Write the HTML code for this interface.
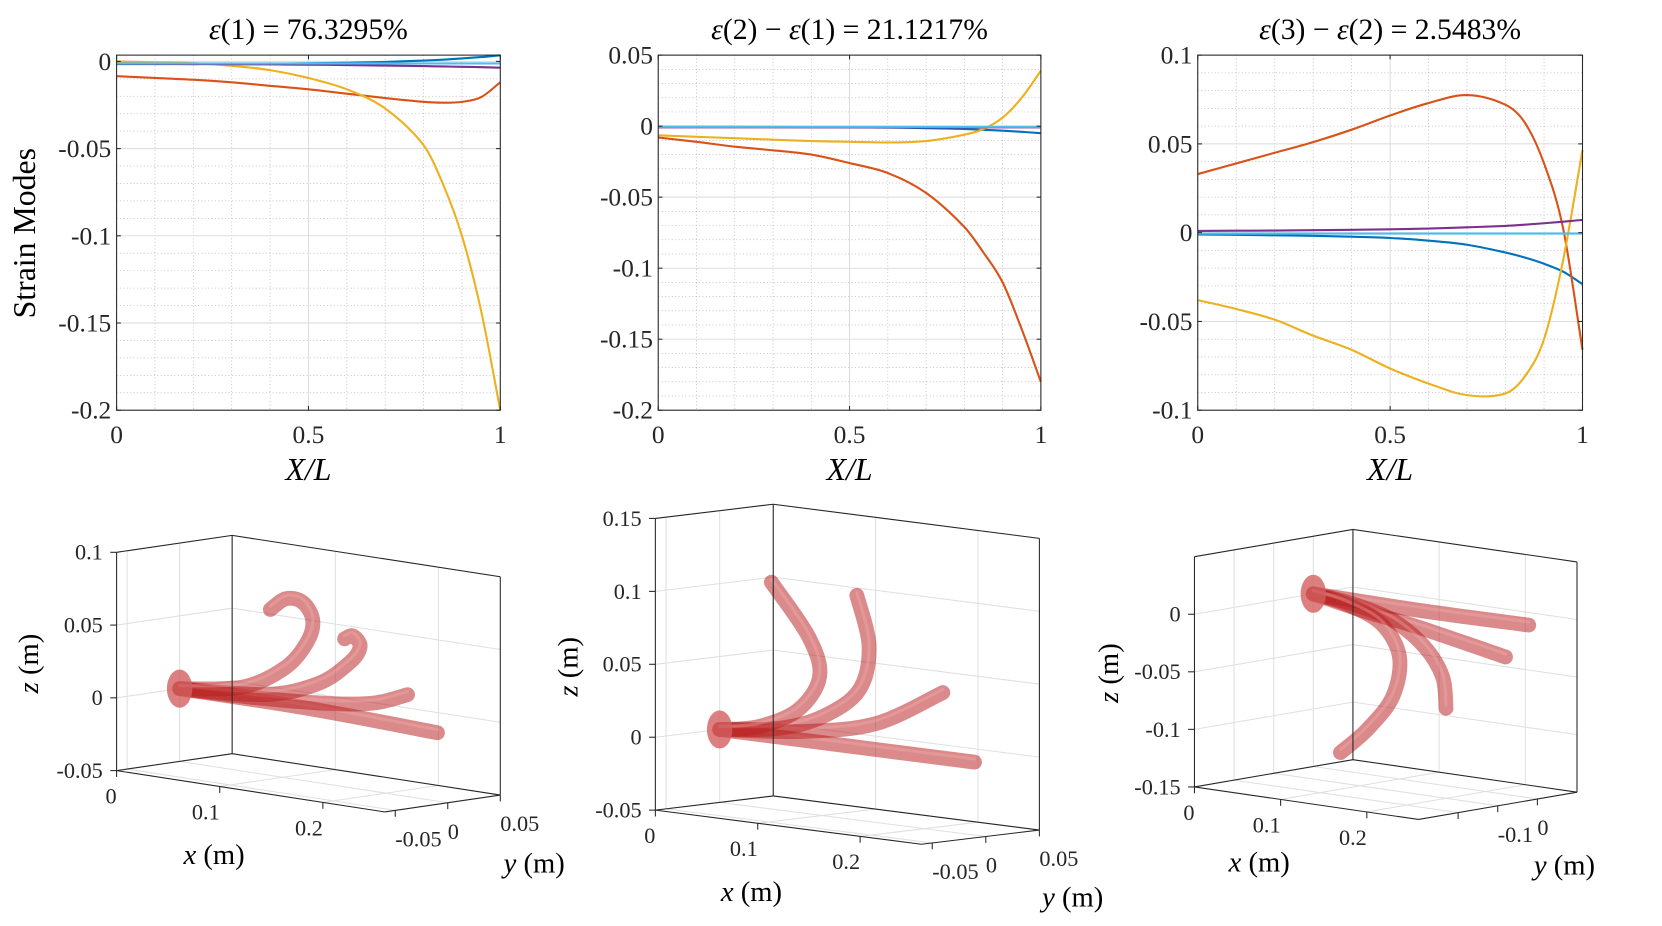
<!DOCTYPE html>
<html><head><meta charset="utf-8">
<style>
html,body{margin:0;padding:0;background:#fff;}
svg{display:block;font-family:"Liberation Serif",serif;}
</style></head>
<body>
<svg id="fig" xmlns="http://www.w3.org/2000/svg" width="1662" height="926" viewBox="0 0 1568 873.6" preserveAspectRatio="none"></svg>
<script>
// ---------- 2D strain mode data ----------
const XS = [0,0.1,0.2,0.3,0.4,0.5,0.6,0.7,0.8,0.85,0.9,0.95,1];
const xTicks = [0,0.5,1];
const xTickLabels = ["0","0.5","1"];
// panel 1
const p1Blue   = [-0.0015,-0.0015,-0.0015,-0.0014,-0.0013,-0.0011,-0.0008,-0.0003,0.0005,0.001,0.0017,0.0025,0.0035];
const p1Orange = [-0.0085,-0.0095,-0.0105,-0.012,-0.014,-0.016,-0.0185,-0.021,-0.0232,-0.0237,-0.0232,-0.0205,-0.012];
const p1Yellow = [0,-0.0005,-0.001,-0.0025,-0.005,-0.0095,-0.016,-0.027,-0.048,-0.07,-0.1,-0.143,-0.2];
const p1Purple = [-0.0013,-0.0014,-0.0015,-0.0016,-0.0017,-0.0019,-0.0021,-0.0024,-0.0027,-0.0029,-0.0031,-0.0033,-0.0036];
const p1Light  = [-0.0012,-0.0012,-0.0012,-0.0012,-0.0012,-0.0012,-0.0012,-0.0012,-0.0012,-0.0012,-0.0012,-0.0012,-0.0012];
const p1YTicks = [0,-0.05,-0.1,-0.15,-0.2];
const p1YTickLabels = ["0","-0.05","-0.1","-0.15","-0.2"];
// panel 2
const p2Blue   = [-0.0005,-0.0005,-0.0005,-0.0006,-0.0007,-0.0008,-0.001,-0.0014,-0.002,-0.0026,-0.0032,-0.004,-0.005];
const p2Orange = [-0.008,-0.011,-0.0145,-0.017,-0.02,-0.026,-0.033,-0.047,-0.071,-0.089,-0.11,-0.143,-0.18];
const p2Yellow = [-0.0065,-0.0075,-0.0085,-0.0095,-0.0105,-0.011,-0.0115,-0.0105,-0.006,-0.002,0.006,0.02,0.039];
const p2Purple = [-0.0008,-0.0008,-0.0008,-0.0008,-0.0008,-0.0008,-0.0008,-0.0008,-0.0008,-0.0008,-0.0008,-0.0008,-0.0008];
const p2Light  = [-0.0005,-0.0005,-0.0005,-0.0005,-0.0005,-0.0005,-0.0005,-0.0005,-0.0005,-0.0005,-0.0005,-0.0005,-0.0005];
const p2YTicks = [0.05,0,-0.05,-0.1,-0.15,-0.2];
const p2YTickLabels = ["0.05","0","-0.05","-0.1","-0.15","-0.2"];
// panel 3
const p3Blue   = [-0.001,-0.0012,-0.0015,-0.0018,-0.0023,-0.003,-0.0045,-0.0068,-0.0112,-0.014,-0.0175,-0.022,-0.029];
const p3Orange = [0.033,0.039,0.045,0.051,0.058,0.066,0.073,0.0775,0.072,0.062,0.039,0.002,-0.066];
const p3Yellow = [-0.038,-0.043,-0.049,-0.058,-0.066,-0.0765,-0.085,-0.0915,-0.0905,-0.081,-0.06,-0.015,0.0466];
const p3Purple = [0.001,0.0011,0.0012,0.0014,0.0016,0.0019,0.0023,0.003,0.0038,0.0045,0.0053,0.0062,0.0072];
const p3Light  = [-0.0005,-0.0005,-0.0005,-0.0005,-0.0005,-0.0005,-0.0005,-0.0005,-0.0005,-0.0005,-0.0005,-0.0005,-0.0005];
const p3YTicks = [0.1,0.05,0,-0.05,-0.1];
const p3YTickLabels = ["0.1","0.05","0","-0.05","-0.1"];

// ---------- 3D tube data (x, z; y = 0) ----------
const t1aX=[0,0.125,0.25], t1aZ=[0,0,-0.003];
const t1bX=[0,0.08,0.15,0.19,0.221], t1bZ=[0,0.002,0.006,0.011,0.02];
const t1cX=[0,0.083,0.134,0.165,0.175,0.168,0.16], t1cZ=[0,0.005,0.018,0.036,0.048,0.0545,0.0517];
const t1dX=[0,0.062,0.103,0.124,0.129,0.119,0.103,0.088], t1dZ=[0,0.008,0.026,0.046,0.0615,0.0725,0.073,0.064];
const t2aX=[0,0.125,0.249], t2aZ=[0,0,0];
const t2bX=[0,0.0836,0.1535,0.218], t2bZ=[0,0.0062,0.018,0.0449];
const t2cX=[0,0.0592,0.101,0.136,0.146,0.134], t2cZ=[0,0.0062,0.018,0.039,0.07,0.104];
const t2dX=[0,0.038,0.0766,0.0976,0.087,0.0505], t2dZ=[0,0.0054,0.0203,0.045,0.0713,0.1055];
const t3aX=[0,0.125,0.25], t3aZ=[0,-0.001,0];
const t3bX=[0,0.0627,0.121,0.223], t3bZ=[0,-0.009,-0.0156,-0.0306];
const t3cX=[0,0.046,0.092,0.129,0.15,0.154], t3cZ=[0,-0.0038,-0.013,-0.032,-0.0558,-0.0827];
const t3dX=[0,0.0378,0.079,0.1,0.092,0.0627,0.0315], t3dZ=[0,-0.0046,-0.0174,-0.044,-0.0795,-0.111,-0.1345];

const svg=document.getElementById('fig');
const NS='http://www.w3.org/2000/svg';
function el(tag,attrs,parent){const e=document.createElementNS(NS,tag);for(const k in attrs)e.setAttribute(k,attrs[k]);(parent||svg).appendChild(e);return e;}
function f(v){return v.toFixed(2);}
// cubic Hermite in x (for function plots)
function hermite(pts){
  const n=pts.length, m=[];
  for(let i=0;i<n;i++){
    const a=pts[Math.max(0,i-1)], b=pts[Math.min(n-1,i+1)];
    m.push((b[1]-a[1])/(b[0]-a[0]));
  }
  let d='M'+f(pts[0][0])+','+f(pts[0][1]);
  for(let i=0;i<n-1;i++){
    const p=pts[i],q=pts[i+1],h=(q[0]-p[0])/3;
    d+='C'+f(p[0]+h)+','+f(p[1]+m[i]*h)+' '+f(q[0]-h)+','+f(q[1]-m[i+1]*h)+' '+f(q[0])+','+f(q[1]);
  }
  return d;
}
// Catmull-Rom (for tube centrelines)
function smooth(pts){
  let d='M'+f(pts[0][0])+','+f(pts[0][1]);
  for(let i=0;i<pts.length-1;i++){
    const p0=pts[Math.max(0,i-1)],p1=pts[i],p2=pts[i+1],p3=pts[Math.min(pts.length-1,i+2)];
    d+='C'+f(p1[0]+(p2[0]-p0[0])/6)+','+f(p1[1]+(p2[1]-p0[1])/6)+' '+f(p2[0]-(p3[0]-p1[0])/6)+','+f(p2[1]-(p3[1]-p1[1])/6)+' '+f(p2[0])+','+f(p2[1]);
  }
  return d;
}
const COLORS={blue:'#0072BD',orange:'#D95319',yellow:'#EDB120',purple:'#7E2F8E',light:'#4DBEEE'};

function plot2d(id,L,R,T,B,ymin,ymax,series,yTicks,yLabels,titleParts,showYLabel){
  const g=el('g',{});
  
  
  const sx=v=>L+v*(R-L);
  const sy=v=>B-(v-ymin)/(ymax-ymin)*(B-T);
  for(let k=1;k<10;k++){ if(k===5)continue; const x=sx(k/10);
    el('line',{x1:x,x2:x,y1:T,y2:B,stroke:'#b8b8b8','stroke-width':0.7,'stroke-dasharray':'1 2.2'},g);}
  const start=Math.ceil(ymin/0.01-1e-6);
  for(let k=start;k*0.01<=ymax+1e-9;k++){ const v=k*0.01; if(Math.abs(v/0.05-Math.round(v/0.05))<1e-6)continue;
    const y=sy(v); el('line',{x1:L,x2:R,y1:y,y2:y,stroke:'#b8b8b8','stroke-width':0.7,'stroke-dasharray':'1 2.2'},g);}
  xTicks.forEach(v=>{const x=sx(v);el('line',{x1:x,x2:x,y1:T,y2:B,stroke:'#dadada','stroke-width':0.9},g);});
  yTicks.forEach(v=>{const y=sy(v);el('line',{x1:L,x2:R,y1:y,y2:y,stroke:'#dadada','stroke-width':0.9},g);});
  series.forEach(s=>{
    const pts=XS.map((x,i)=>[sx(x),sy(s.v[i])]);
    const p=el('path',{d:hermite(pts),fill:'none',stroke:COLORS[s.c],'stroke-width':2,'stroke-linejoin':'round'},g);
    
    
  });
  el('rect',{x:L,y:T,width:R-L,height:B-T,fill:'none',stroke:'#262626','stroke-width':1},g);
  xTicks.forEach((v,i)=>{const x=sx(v);
    el('line',{x1:x,x2:x,y1:B,y2:B-4,stroke:'#262626','stroke-width':1},g);
    el('line',{x1:x,x2:x,y1:T,y2:T+4,stroke:'#262626','stroke-width':1},g);
    const t=el('text',{x:x,y:B+31,'text-anchor':'middle','font-size':24,fill:'#262626'},g);t.textContent=xTickLabels[i];
    });
  yTicks.forEach((v,i)=>{const y=sy(v);
    el('line',{x1:L,x2:L+4,y1:y,y2:y,stroke:'#262626','stroke-width':1},g);
    el('line',{x1:R,x2:R-4,y1:y,y2:y,stroke:'#262626','stroke-width':1},g);
    const t=el('text',{x:L-5,y:y+8,'text-anchor':'end','font-size':24,fill:'#262626'},g);t.textContent=yLabels[i];
    });
  const xl=el('text',{x:(L+R)/2,y:453,'text-anchor':'middle','font-size':30,'font-style':'italic',fill:'#000'},g);
  xl.textContent='X/L';
  
  const tt=el('text',{x:(L+R)/2,y:37,'text-anchor':'middle','font-size':28,fill:'#000'},g);
  
  titleParts.forEach(p=>{const s=el('tspan',p[1]?{'font-style':'italic'}:{},tt);s.textContent=p[0];});
  if(showYLabel){
    const yl=el('text',{x:0,y:0,transform:'translate(33,220) rotate(-90)','text-anchor':'middle','font-size':30,fill:'#000'},g);
    yl.textContent='Strain Modes';
    
  }
}

plot2d('strain-plot-1',110,472,52,387,-0.2,0.0036,
  [{c:'blue',v:p1Blue},{c:'orange',v:p1Orange},{c:'yellow',v:p1Yellow},{c:'purple',v:p1Purple},{c:'light',v:p1Light}],
  p1YTicks,p1YTickLabels,[['ε',true],['(1) = 76.3295%',false]],true);
plot2d('strain-plot-2',621,982,52,387,-0.2,0.05,
  [{c:'blue',v:p2Blue},{c:'orange',v:p2Orange},{c:'yellow',v:p2Yellow},{c:'purple',v:p2Purple},{c:'light',v:p2Light}],
  p2YTicks,p2YTickLabels,[['ε',true],['(2) − ',false],['ε',true],['(1) = 21.1217%',false]],false);
plot2d('strain-plot-3',1130,1493,52,387,-0.1,0.1,
  [{c:'blue',v:p3Blue},{c:'orange',v:p3Orange},{c:'yellow',v:p3Yellow},{c:'purple',v:p3Purple},{c:'light',v:p3Light}],
  p3YTicks,p3YTickLabels,[['ε',true],['(3) − ',false],['ε',true],['(2) = 2.5483%',false]],false);

// ---------- 3D panels ----------
function plot3d(cfg){
  const g=el('g',{});
  
  
  const [x0,x1]=cfg.xl,[y0,y1]=cfg.yl,[z0,z1]=cfg.zl;
  const P=(x,y,z)=>[cfg.O[0]+(x-x0)*cfg.ex[0]+(y-y0)*cfg.ey[0]+(z-z0)*cfg.ez[0],
                    cfg.O[1]+(x-x0)*cfg.ex[1]+(y-y0)*cfg.ey[1]+(z-z0)*cfg.ez[1]];
  const ln=(a,b,st,w)=>el('line',{x1:a[0],y1:a[1],x2:b[0],y2:b[1],stroke:st,'stroke-width':w},g);
  const gc='#e0e0e0';
  cfg.zt.forEach(z=>{ln(P(x0,y0,z),P(x0,y1,z),gc,1);ln(P(x0,y1,z),P(x1,y1,z),gc,1);});
  cfg.yt.forEach(y=>{ln(P(x0,y,z0),P(x0,y,z1),gc,1);ln(P(x0,y,z0),P(x1,y,z0),gc,1);});
  cfg.xt.forEach(x=>{ln(P(x,y1,z0),P(x,y1,z1),gc,1);ln(P(x,y0,z0),P(x,y1,z0),gc,1);});
  cfg.tubes.forEach((t,i)=>{
    const pts=t[0].map((x,k)=>P(x,0,t[1][k]));
    const p=el('path',{d:smooth(pts),fill:'none',stroke:'rgb(185,30,30)','stroke-opacity':0.52,'stroke-width':14,'stroke-linecap':'round','stroke-linejoin':'round'},g);
    
    
    const h=el('path',{d:smooth(pts),fill:'none',stroke:'#f3b0b0','stroke-opacity':0.35,'stroke-width':3,'stroke-linecap':'round','transform':'translate(0,-3)'},g);
    
    
  });
  const r=P(0,0,0);
  const cap=el('ellipse',{cx:r[0],cy:r[1],rx:12,ry:18,fill:'rgb(210,95,95)','fill-opacity':0.8},g);
  
  const bk='#262626';
  [[P(x0,y0,z1),P(x0,y1,z1)],[P(x0,y1,z1),P(x1,y1,z1)],[P(x0,y0,z0),P(x0,y0,z1)],[P(x0,y1,z0),P(x0,y1,z1)],
   [P(x1,y1,z0),P(x1,y1,z1)],[P(x0,y0,z0),P(x0,y1,z0)],[P(x0,y1,z0),P(x1,y1,z0)],[P(x0,y0,z0),P(x1,y0,z0)],[P(x1,y0,z0),P(x1,y1,z0)]]
   .forEach(s=>ln(s[0],s[1],bk,1));
  cfg.xt.forEach((x,i)=>{const a=P(x,y0,z0);ln(a,[a[0],a[1]+6],bk,1);
    const t=el('text',{x:a[0],y:a[1]+31,'text-anchor':'end','font-size':21,fill:'#262626'},g);t.textContent=cfg.xtl[i];
    });
  cfg.yt.forEach((y,i)=>{const a=P(x1,y,z0);ln(a,[a[0],a[1]+6],bk,1);
    if(cfg.ytl[i]){const t=el('text',{x:a[0],y:a[1]+34,'text-anchor':'start','font-size':21,fill:'#262626'},g);t.textContent=cfg.ytl[i];
    }});
  cfg.zt.forEach((z,i)=>{const a=P(x0,y0,z);ln(a,[a[0]-6,a[1]],bk,1);
    const t=el('text',{x:a[0]-13,y:a[1]+7,'text-anchor':'end','font-size':21,fill:'#262626'},g);t.textContent=cfg.ztl[i];
    });
  const mk=(txt,x,y,rot,name)=>{const t=el('text',{x:0,y:0,transform:'translate('+x+','+y+')'+(rot?' rotate(-90)':''),'text-anchor':'middle','font-size':27,fill:'#000'},g);
    const a=el('tspan',{'font-style':'italic'},t);a.textContent=txt;const b=el('tspan',{},t);b.textContent=' (m)';
    };
  mk('x',cfg.xlab[0],cfg.xlab[1],false,'x-axis-title');
  mk('y',cfg.ylab[0],cfg.ylab[1],false,'y-axis-title');
  mk('z',cfg.zlab[0],cfg.zlab[1],true,'z-axis-title');
}

plot3d({id:'rod-3d-1',O:[110,727],ex:[973,150],ey:[991,-145],ez:[0,-1373],xl:[0,0.26],yl:[-0.06,0.05],zl:[-0.05,0.1],
  xt:[0,0.1,0.2],xtl:['0','0.1','0.2'],yt:[-0.05,0,0.05],ytl:['-0.05','0','0.05'],zt:[-0.05,0,0.05,0.1],ztl:['-0.05','0','0.05','0.1'],
  tubes:[[t1aX,t1aZ],[t1bX,t1bZ],[t1cX,t1cZ],[t1dX,t1dZ]],xlab:[202,815],ylab:[504,823],zlab:[36,626]});
plot3d({id:'rod-3d-2',O:[618.3,764.3],ex:[965.8,123.8],ey:[1010.9,-121.8],ez:[0,-1376],xl:[0,0.26],yl:[-0.06,0.05],zl:[-0.05,0.15],
  xt:[0,0.1,0.2],xtl:['0','0.1','0.2'],yt:[-0.05,0,0.05],ytl:['-0.05','0','0.05'],zt:[-0.05,0,0.05,0.1,0.15],ztl:['-0.05','0','0.05','0.1','0.15'],
  tubes:[[t2aX,t2aZ],[t2bX,t2bZ],[t2cX,t2cZ],[t2dX,t2dZ]],xlab:[709,850],ylab:[1012,855],zlab:[545,629]});
plot3d({id:'rod-3d-3',O:[1126.9,742.4],ex:[813,118],ey:[373.8,-64.3],ez:[0,-1086],xl:[0,0.26],yl:[-0.3,0.1],zl:[-0.15,0.05],
  xt:[0,0.1,0.2],xtl:['0','0.1','0.2'],yt:[-0.2,-0.1,0],ytl:['','-0.1','0'],zt:[-0.15,-0.1,-0.05,0],ztl:['-0.15','-0.1','-0.05','0'],
  tubes:[[t3aX,t3aZ],[t3bX,t3bZ],[t3cX,t3cZ],[t3dX,t3dZ]],xlab:[1188,822],ylab:[1476,825],zlab:[1055,635]});
</script>
</body></html>
